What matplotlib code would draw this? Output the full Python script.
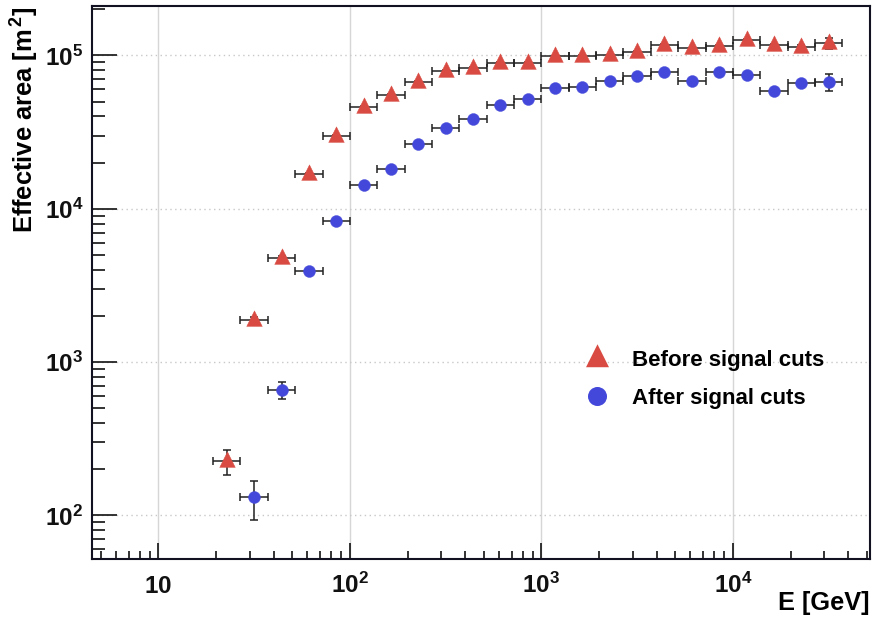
import numpy as np
import matplotlib
matplotlib.use("Agg")
import matplotlib.pyplot as plt
from matplotlib.ticker import FixedLocator, LogLocator, NullFormatter
from matplotlib.lines import Line2D
from matplotlib.path import Path

# -------------------------------
# Data
# -------------------------------
# energy bin edges [GeV], 7 bins per decade
bin_edges = [19.31, 26.83, 37.28, 51.79, 71.97, 100.0, 138.95, 193.07, 268.27,
             372.76, 517.95, 719.69, 1000.0, 1389.5, 1930.7, 2682.7, 3727.6,
             5179.5, 7196.9, 10000.0, 13895.0, 19307.0, 26827.0, 37276.0]

# effective area before signal cuts (first 23 bins)
before_area = [226, 1890, 4750, 16800, 29700, 46300, 55400, 67300, 79500, 83100,
               89600, 89600, 98500, 99000, 100000, 106000, 116700, 111000, 115700,
               126600, 116700, 113300, 120300]
before_err = [42, 90, 150, 300, 450, 600, 700, 800, 900, 950, 1000, 1000, 1100,
              1100, 1200, 1300, 1500, 1600, 1900, 2300, 2600, 3500, 10000]

# effective area after signal cuts (starts one bin later)
after_area = [131, 660, 3935, 8340, 14230, 18300, 26500, 33500, 38400, 47200,
              51600, 61600, 61800, 67700, 73300, 77800, 67700, 77800, 74000,
              58800, 65700, 67300]
after_err = [38, 82, 120, 200, 300, 380, 480, 560, 620, 720, 780, 900, 950, 1050,
             1150, 1300, 1300, 1500, 1700, 1800, 2500, 8300]

x_ticks = [10, 100, 1000, 10000]
x_ticklabels = ["10", "10^{2}", "10^{3}", "10^{4}"]
y_ticks = [100, 1000, 10000, 100000]
y_ticklabels = ["10^{2}", "10^{3}", "10^{4}", "10^{5}"]

RED = "#d94b42"
BLUE = "#4448da"

plt.rcParams["font.family"] = "Liberation Sans"
plt.rcParams["font.weight"] = "bold"
plt.rcParams["mathtext.fontset"] = "custom"
plt.rcParams["mathtext.rm"] = "Liberation Sans:bold"
plt.rcParams["mathtext.it"] = "Liberation Sans:bold"
plt.rcParams["mathtext.bf"] = "Liberation Sans:bold"

# triangle with its centre a bit below the middle, like ROOT
tri = Path([(0, 1.24), (-1, -0.76), (1, -0.76), (0, 1.24)],
           [Path.MOVETO, Path.LINETO, Path.LINETO, Path.CLOSEPOLY])


def bin_info(edges, first, n):
    lo = np.array(edges[first:first + n])
    hi = np.array(edges[first + 1:first + n + 1])
    c = np.sqrt(lo * hi)
    return c, np.vstack([c - lo, hi - c])


fig = plt.figure(figsize=(8.73, 6.18), dpi=100)
ax = fig.add_axes([92 / 873, 1 - 559 / 618, 778 / 873, 553 / 618])
ax.set_xscale("log")
ax.set_yscale("log")
ax.set_xlim(4.5, 52000)
ax.set_ylim(52, 2.1e5)

# grid: solid vertical, dotted horizontal
for xv in x_ticks:
    ax.axvline(xv, color="#d6d6d6", lw=1.0, zorder=0)
for yv in y_ticks:
    ax.axhline(yv, color="#c8c8c8", lw=1.0, ls=(0, (1, 2.5)), zorder=0)

xc_b, xe_b = bin_info(bin_edges, 0, len(before_area))
xc_a, xe_a = bin_info(bin_edges, 1, len(after_area))

ebar_kw = dict(ls="none", ecolor="#222222", elinewidth=1.1, capsize=2.8,
               capthick=1.1, zorder=2)
ax.errorbar(xc_b, before_area, xerr=xe_b, yerr=before_err, **ebar_kw)
ax.errorbar(xc_a, after_area, xerr=xe_a, yerr=after_err, **ebar_kw)
ax.plot(xc_b, before_area, ls="none", marker=tri, ms=13.9, color=RED,
        mec=RED, mew=0.3, zorder=3)
ax.plot(xc_a, after_area, ls="none", marker="o", ms=8.6, color=BLUE,
        mec=BLUE, mew=0.3, zorder=3)

# axes / ticks in ROOT style
ax.xaxis.set_major_locator(FixedLocator(x_ticks))
ax.yaxis.set_major_locator(FixedLocator(y_ticks))
ax.xaxis.set_minor_locator(LogLocator(base=10, subs=range(2, 10), numticks=20))
ax.yaxis.set_minor_locator(LogLocator(base=10, subs=range(2, 10), numticks=20))
ax.xaxis.set_minor_formatter(NullFormatter())
ax.yaxis.set_minor_formatter(NullFormatter())
ax.set_xticks(x_ticks, [r"$\mathregular{%s}$" % s for s in x_ticklabels],
              va="baseline")
ax.set_yticks(y_ticks, [r"$\mathregular{%s}$" % s for s in y_ticklabels])

ax.tick_params(axis="both", which="both", direction="in", top=False,
               right=False, colors="#111111", width=1.2)
ax.tick_params(axis="x", which="major", length=11.7, pad=24.5, labelsize=17.5)
ax.tick_params(axis="x", which="minor", length=6.0)
ax.tick_params(axis="y", which="major", length=18, pad=6.2, labelsize=17.5)
ax.tick_params(axis="y", which="minor", length=9.2)
for s in ax.spines.values():
    s.set_linewidth(1.5)
    s.set_color("#111122")

ax.set_xlabel("E [GeV]", fontsize=18.3, fontweight="bold", loc="right")
ax.xaxis.set_label_coords(1.0, -0.057)
ax.set_ylabel(r"Effective area [m$^{\,2}$]", fontsize=18.4, fontweight="bold",
              loc="top")
ax.yaxis.set_label_coords(-0.065, 1.0)

handles = [Line2D([], [], ls="none", marker=tri, ms=20.5, color=RED, mew=0),
           Line2D([], [], ls="none", marker="o", ms=13.7, color=BLUE, mew=0)]
ax.legend(handles, ["Before signal cuts", "After signal cuts"], frameon=False,
          loc="upper left", bbox_to_anchor=(0.625, 0.386), fontsize=16,
          handlelength=1.3, handletextpad=0.9, labelspacing=0.76,
          borderpad=0.2, borderaxespad=0.0)

fig.savefig("out.png", dpi=100)
